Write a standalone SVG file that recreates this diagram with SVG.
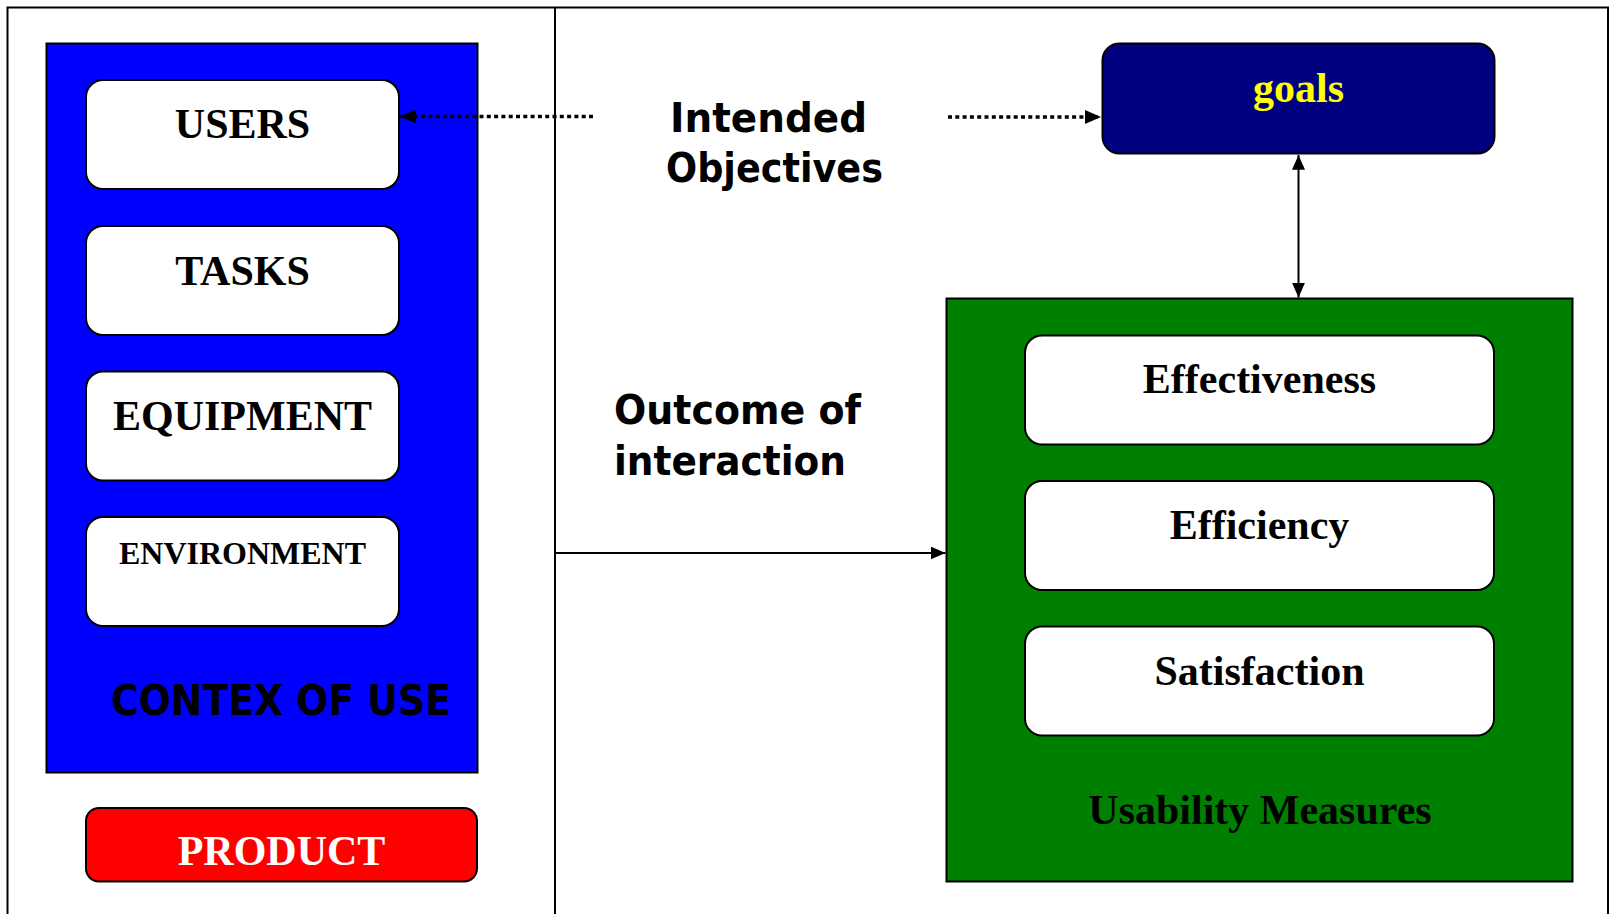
<svg xmlns="http://www.w3.org/2000/svg" width="1612" height="914" viewBox="0 0 1612 914">
<defs>
<marker id="ah" viewBox="0 0 16 14" refX="16" refY="7" markerWidth="16" markerHeight="14" markerUnits="userSpaceOnUse" orient="auto-start-reverse">
<path d="M0,0 L16,7 L0,14 Z" fill="#000"/>
</marker>
<marker id="ahs" viewBox="0 0 16 14" refX="16" refY="7" markerWidth="15" markerHeight="13" markerUnits="userSpaceOnUse" orient="auto-start-reverse">
<path d="M0,0 L16,7 L0,14 Z" fill="#000"/>
</marker>
</defs>
<style>
.frame{fill:none;stroke:#000;stroke-width:2}
.wbox{fill:#fff;stroke:#000;stroke-width:2}
.serif{font-family:"Liberation Serif","Times New Roman",serif;font-weight:bold;font-size:42px;text-anchor:middle}
.sans{font-family:"DejaVu Sans",Verdana,sans-serif;font-weight:bold;font-size:40px}
.dot{fill:none;stroke:#000;stroke-width:3.5;stroke-dasharray:4 3.3}
.line{fill:none;stroke:#000;stroke-width:2}
</style>
<rect width="1612" height="914" fill="#fff"/>
<g id="frame">
<path class="frame" d="M7.5,914 V7.5 H1608 V914"/>
<line class="frame" x1="555" y1="7.5" x2="555" y2="914"/>
</g>
<g id="context">
<rect x="46.5" y="43.5" width="431" height="729" fill="#0000FF" stroke="#000" stroke-width="2"/>
<text class="sans" x="111" y="715" style="font-size:43px" textLength="340" lengthAdjust="spacingAndGlyphs">CONTEX OF USE</text>
</g>
<g id="users">
<rect class="wbox" x="86" y="80" width="313" height="109" rx="17"/>
<text class="serif" x="242.5" y="138">USERS</text>
</g>
<g id="tasks">
<rect class="wbox" x="86" y="226" width="313" height="109" rx="17"/>
<text class="serif" x="242.5" y="285">TASKS</text>
</g>
<g id="equipment">
<rect class="wbox" x="86" y="371.5" width="313" height="109" rx="17"/>
<text class="serif" x="242.5" y="430">EQUIPMENT</text>
</g>
<g id="environment">
<rect class="wbox" x="86" y="517" width="313" height="109" rx="17"/>
<text class="serif" x="242.5" y="564" style="font-size:32px">ENVIRONMENT</text>
</g>
<g id="product">
<rect x="86" y="808" width="391" height="73.5" rx="13" fill="#FF0000" stroke="#000" stroke-width="2"/>
<text class="serif" x="281.5" y="865" fill="#fff">PRODUCT</text>
</g>
<g id="intended">
<text class="sans" x="670" y="131.5" textLength="197" lengthAdjust="spacingAndGlyphs">Intended</text>
<text class="sans" x="666" y="182" textLength="217" lengthAdjust="spacingAndGlyphs">Objectives</text>
</g>
<g id="outcome">
<text class="sans" x="614" y="424" textLength="247" lengthAdjust="spacingAndGlyphs">Outcome of</text>
<text class="sans" x="614" y="475" textLength="232" lengthAdjust="spacingAndGlyphs">interaction</text>
</g>
<g id="goals">
<rect x="1102.5" y="43.5" width="392" height="110" rx="17" fill="#000080" stroke="#000" stroke-width="2"/>
<text class="serif" x="1298.5" y="102" fill="#FFFF00">goals</text>
</g>
<g id="measures">
<rect x="946.5" y="298.5" width="626" height="583" fill="#008000" stroke="#000" stroke-width="2"/>
<text class="serif" x="1260" y="824" fill="#000">Usability Measures</text>
</g>
<g id="effectiveness">
<rect class="wbox" x="1025" y="335.5" width="469" height="109" rx="17"/>
<text class="serif" x="1259.5" y="393">Effectiveness</text>
</g>
<g id="efficiency">
<rect class="wbox" x="1025" y="481" width="469" height="109" rx="17"/>
<text class="serif" x="1259.5" y="539">Efficiency</text>
</g>
<g id="satisfaction">
<rect class="wbox" x="1025" y="626.5" width="469" height="109" rx="17"/>
<text class="serif" x="1259.5" y="684.5">Satisfaction</text>
</g>
<g id="connectors">
<line class="dot" x1="593" y1="116.5" x2="400" y2="116.5" marker-end="url(#ah)"/>
<line class="dot" x1="948" y1="117" x2="1101" y2="117" marker-end="url(#ah)"/>
<line class="line" x1="556" y1="553" x2="945.5" y2="553" marker-end="url(#ahs)"/>
<line class="line" x1="1298.5" y1="155" x2="1298.5" y2="297.5" marker-start="url(#ahs)" marker-end="url(#ahs)"/>
</g>
</svg>
